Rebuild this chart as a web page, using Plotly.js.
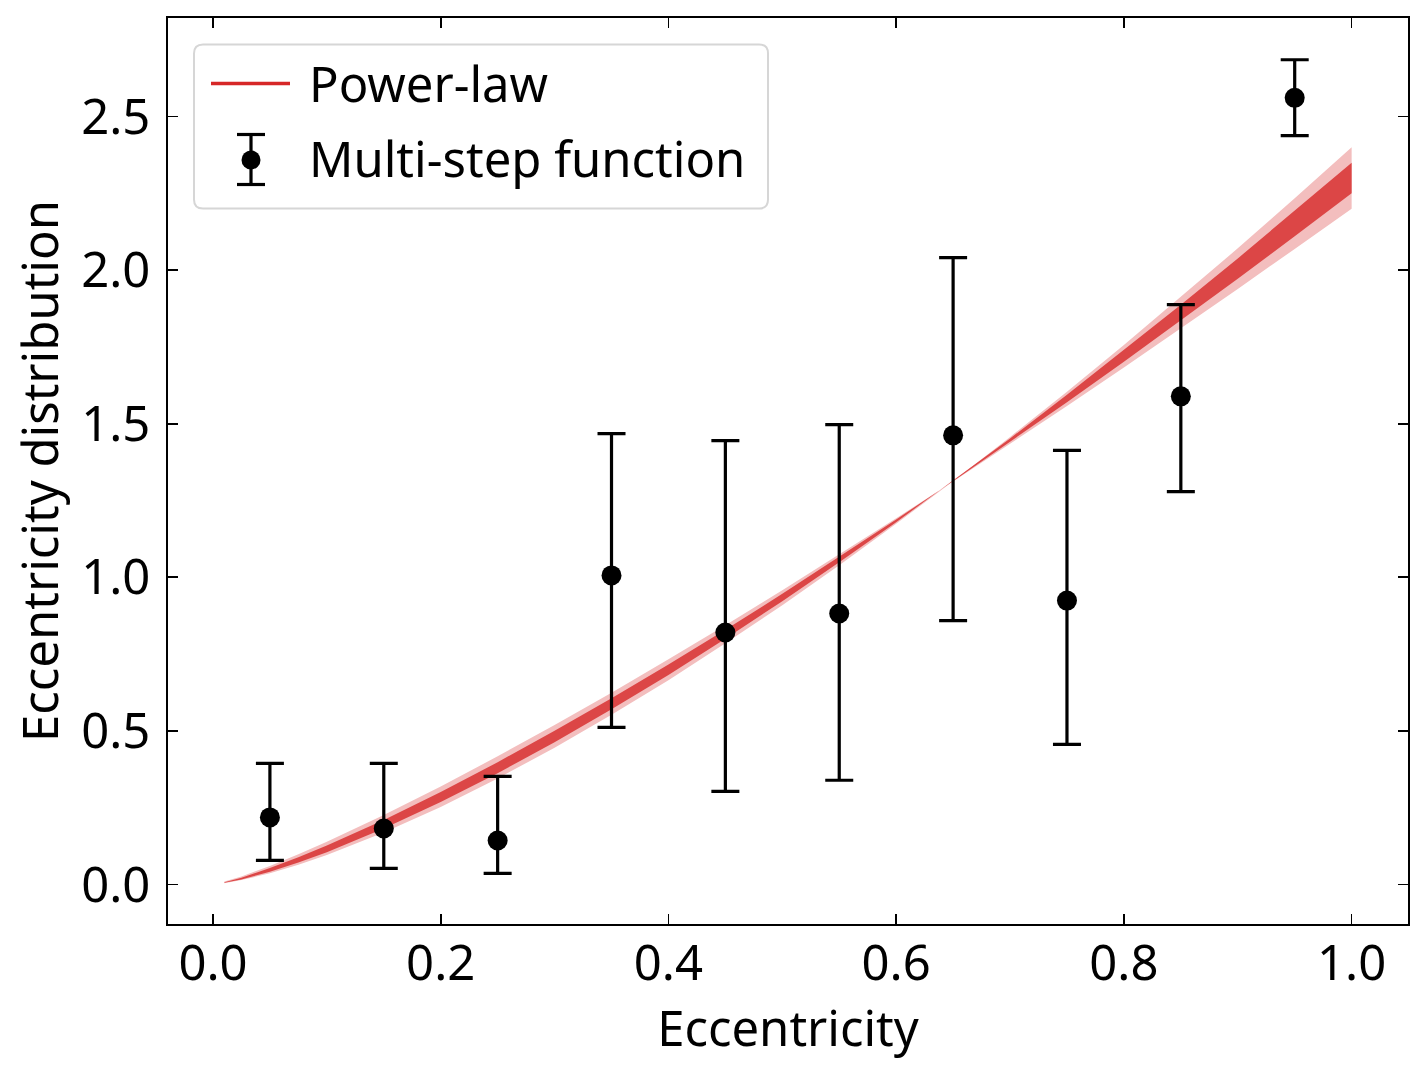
<!DOCTYPE html>
<html>
<head>
<meta charset="utf-8">
<script src="https://cdn.plot.ly/plotly-3.0.1.min.js"></script>
<style>
  html, body { margin: 0; padding: 0; background: #ffffff; }
  #chart { width: 1428px; height: 1072px; }
</style>
</head>
<body>
<div id="chart"></div>
<script>
// ---- Data ----
// Power-law curve samples (eccentricity) and band edges
const curveX = [0.01,0.025,0.05,0.075,0.1,0.15,0.2,0.25,0.3,0.35,0.4,0.45,0.5,0.55,0.6,0.65,0.7,0.75,0.8,0.85,0.9,0.95,1.0];
const outerEdge1 = [0.009,0.026,0.060,0.098,0.139,0.226,0.319,0.417,0.519,0.624,0.733,0.844,0.958,1.074,1.192,1.312,1.434,1.558,1.683,1.810,1.939,2.069,2.200];
const innerEdge1 = [0.007,0.022,0.053,0.088,0.127,0.210,0.301,0.398,0.500,0.606,0.716,0.829,0.946,1.066,1.188,1.313,1.441,1.570,1.702,1.836,1.972,2.110,2.250];
const innerEdge2 = [0.005,0.016,0.041,0.071,0.105,0.182,0.268,0.362,0.463,0.570,0.682,0.800,0.922,1.049,1.179,1.314,1.452,1.594,1.739,1.887,2.038,2.193,2.350];
const outerEdge2 = [0.004,0.014,0.036,0.064,0.096,0.169,0.252,0.345,0.445,0.552,0.665,0.785,0.909,1.039,1.174,1.313,1.457,1.604,1.756,1.912,2.071,2.234,2.400];

// Multi-step function points with asymmetric error bars
const stepX  = [0.05,0.15,0.25,0.35,0.45,0.55,0.65,0.75,0.85,0.95];
const stepY  = [0.218,0.182,0.143,1.006,0.820,0.882,1.462,0.924,1.589,2.561];
const stepHi = [0.394,0.394,0.352,1.468,1.445,1.497,2.041,1.413,1.888,2.685];
const stepLo = [0.078,0.052,0.036,0.511,0.303,0.339,0.859,0.456,1.279,2.438];

const xTicks = [0.0,0.2,0.4,0.6,0.8,1.0];
const xTickText = ["0.0","0.2","0.4","0.6","0.8","1.0"];
const yTicks = [0.0,0.5,1.0,1.5,2.0,2.5];
const yTickText = ["0.0","0.5","1.0","1.5","2.0","2.5"];

const seriesNames = ["Power-law", "Multi-step function"];

// ---- Styles ----
const FONT = "Noto Sans, Open Sans, DejaVu Sans, sans-serif";
const RED = "#d62728";
const LIGHT = "#f3bebe";
const DARK = "#dc4646";
const FS = 49;

const plusErr = stepHi.map((v, i) => v - stepY[i]);
const minusErr = stepLo.map((v, i) => stepY[i] - v);

const traces = [
  { x: curveX, y: outerEdge1, type: "scatter", mode: "lines", line: {width: 0, color: LIGHT},
    showlegend: false, hoverinfo: "skip" },
  { x: curveX, y: outerEdge2, type: "scatter", mode: "lines", line: {width: 0, color: LIGHT},
    fill: "tonexty", fillcolor: LIGHT, showlegend: false, hoverinfo: "skip" },
  { x: curveX, y: innerEdge1, type: "scatter", mode: "lines", line: {width: 0, color: DARK},
    showlegend: false, hoverinfo: "skip" },
  { x: curveX, y: innerEdge2, type: "scatter", mode: "lines", line: {width: 0, color: DARK},
    fill: "tonexty", fillcolor: DARK, name: seriesNames[0], showlegend: false, hoverinfo: "skip" },
  { x: stepX, y: stepY, type: "scatter", mode: "markers", name: seriesNames[1],
    marker: {color: "#000000", size: 20},
    error_y: {type: "data", symmetric: false, array: plusErr, arrayminus: minusErr,
              color: "#000000", thickness: 3.2, width: 14},
    showlegend: false }
];

// plot area in px: left 168, right 1408, top 18, bottom 924
const PW = 1240, PH = 906;
function px2x(p) { return (p - 168) / PW; }
function px2y(p) { return (924 - p) / PH; }
const bx0 = px2x(194), bx1 = px2x(768), by0 = px2y(208.5), by1 = px2y(44.5);
const rx = 9 / PW, ry = 9 / PH;
const boxPath =
  `M ${bx0+rx} ${by1} L ${bx1-rx} ${by1} Q ${bx1} ${by1} ${bx1} ${by1-ry} ` +
  `L ${bx1} ${by0+ry} Q ${bx1} ${by0} ${bx1-rx} ${by0} ` +
  `L ${bx0+rx} ${by0} Q ${bx0} ${by0} ${bx0} ${by0+ry} ` +
  `L ${bx0} ${by1-ry} Q ${bx0} ${by1} ${bx0+rx} ${by1} Z`;

// legend glyphs (line proxy + error-bar proxy)
const legendShapes = [
  {type: "path", xref: "paper", yref: "paper", path: boxPath,
   fillcolor: "rgba(255,255,255,0.8)", line: {color: "#d6d6d6", width: 2}, layer: "above"},
  {type: "line", xref: "paper", yref: "paper", x0: px2x(211), x1: px2x(290), y0: px2y(83.5), y1: px2y(83.5),
   line: {color: RED, width: 3.5}, layer: "above"},
  {type: "line", xref: "paper", yref: "paper", x0: px2x(251), x1: px2x(251), y0: px2y(134.5), y1: px2y(184.5),
   line: {color: "#000000", width: 3.2}, layer: "above"},
  {type: "line", xref: "paper", yref: "paper", x0: px2x(237), x1: px2x(265), y0: px2y(134.5), y1: px2y(134.5),
   line: {color: "#000000", width: 3.2}, layer: "above"},
  {type: "line", xref: "paper", yref: "paper", x0: px2x(237), x1: px2x(265), y0: px2y(184.5), y1: px2y(184.5),
   line: {color: "#000000", width: 3.2}, layer: "above"},
  {type: "circle", xref: "paper", yref: "paper", x0: px2x(241.5), x1: px2x(260.5), y0: px2y(169.5), y1: px2y(150.5),
   fillcolor: "#000000", line: {color: "#000000", width: 0}, layer: "above"}
];

const legendTexts = [
  {text: seriesNames[0], xref: "paper", yref: "paper", x: px2x(307), y: px2y(83), xanchor: "left", yanchor: "middle",
   showarrow: false, font: {family: FONT, size: FS, color: "#000000"}},
  {text: seriesNames[1], xref: "paper", yref: "paper", x: px2x(307), y: px2y(158.5), xanchor: "left", yanchor: "middle",
   showarrow: false, font: {family: FONT, size: FS, color: "#000000"}}
];

const axisCommon = {
  showgrid: false, zeroline: false, showline: true, linecolor: "#000000", linewidth: 1.8,
  mirror: "ticks", ticks: "inside", ticklen: 10, tickwidth: 1.6, tickcolor: "#000000",
  tickfont: {family: FONT, size: FS, color: "#000000"}
};

const layout = {
  width: 1428, height: 1072,
  margin: {l: 168, r: 20, t: 18, b: 148, pad: 0},
  paper_bgcolor: "#ffffff", plot_bgcolor: "#ffffff",
  font: {family: FONT, size: FS, color: "#000000"},
  xaxis: Object.assign({}, axisCommon, {
    range: [-0.0395, 1.0495], tickmode: "array", tickvals: xTicks, ticktext: xTickText,
    ticklabelstandoff: -5,
    title: {text: "Eccentricity", font: {family: FONT, size: FS, color: "#000000"}, standoff: 2}
  }),
  yaxis: Object.assign({}, axisCommon, {
    range: [-0.129, 2.821], tickmode: "array", tickvals: yTicks, ticktext: yTickText,
    ticklabelstandoff: 6,
    title: {text: "Eccentricity distribution", font: {family: FONT, size: FS, color: "#000000"}, standoff: 7}
  }),
  showlegend: false,
  shapes: legendShapes,
  annotations: legendTexts
};

Plotly.newPlot("chart", traces, layout, {staticPlot: true, displayModeBar: false});
</script>
</body>
</html>
